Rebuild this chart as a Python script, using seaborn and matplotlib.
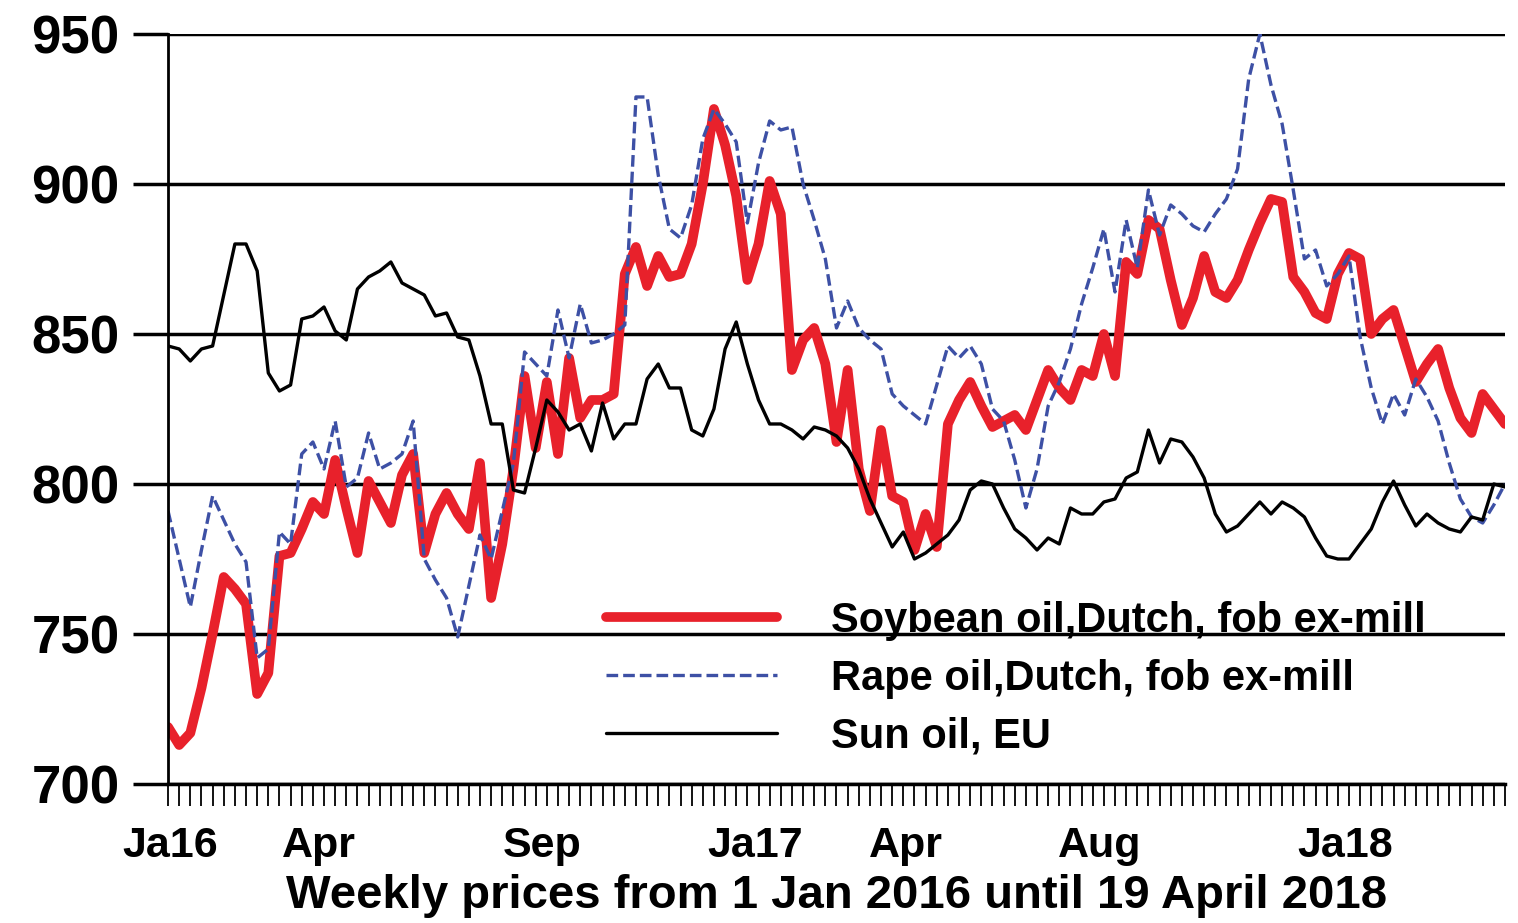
import numpy as np
import pandas as pd
import seaborn as sns
import matplotlib.pyplot as plt

# weekly prices, 1 Jan 2016 .. 19 Apr 2018 (week index 0..120)
weeks = np.arange(121)

soybean = [
    719, 713, 717, 732, 750, 769, 765, 760, 730, 737,
    776, 777, 785, 794, 790, 808, 792, 777, 801, 794,
    787, 803, 810, 777, 790, 797, 790, 785, 807, 762,
    780, 805, 836, 812, 834, 810, 842, 822, 828, 828,
    830, 870, 879, 866, 876, 869, 870, 880, 900, 925,
    913, 896, 868, 880, 901, 890, 838, 848, 852, 840,
    814, 838, 805, 791, 818, 796, 794, 778, 790, 779,
    820, 828, 834, 826, 819, 821, 823, 818, 828, 838,
    832, 828, 838, 836, 850, 836, 874, 870, 888, 885,
    868, 853, 862, 876, 864, 862, 868, 878, 887, 895,
    894, 869, 864, 857, 855, 870, 877, 875, 850, 855,
    858, 846, 834, 840, 845, 832, 822, 817, 830, 825,
    820,
]

rape = [
    791, 775, 759, 778, 796, 788, 780, 774, 742, 745,
    784, 780, 810, 814, 805, 821, 799, 802, 817, 805,
    807, 810, 821, 775, 768, 762, 749, 766, 783, 775,
    791, 807, 844, 840, 836, 858, 842, 860, 847, 848,
    850, 853, 929, 929, 903, 885, 882, 893, 915, 925,
    920, 914, 887, 907, 921, 918, 919, 900, 888, 875,
    852, 861, 852, 848, 845, 830, 826, 823, 820, 833,
    846, 842, 846, 840, 825, 821, 808, 792, 805, 826,
    834, 845, 860, 872, 885, 864, 888, 872, 898, 883,
    893, 890, 886, 884, 890, 895, 905, 935, 950, 933,
    920, 898, 875, 878, 866, 870, 876, 849, 832, 820,
    830, 823, 835, 829, 821, 807, 795, 789, 787, 793,
    800,
]

sun = [
    846, 845, 841, 845, 846, 863, 880, 880, 871, 837,
    831, 833, 855, 856, 859, 851, 848, 865, 869, 871,
    874, 867, 865, 863, 856, 857, 849, 848, 836, 820,
    820, 798, 797, 812, 828, 824, 818, 820, 811, 827,
    815, 820, 820, 835, 840, 832, 832, 818, 816, 825,
    845, 854, 840, 828, 820, 820, 818, 815, 819, 818,
    816, 812, 805, 795, 787, 779, 784, 775, 777, 780,
    783, 788, 798, 801, 800, 792, 785, 782, 778, 782,
    780, 792, 790, 790, 794, 795, 802, 804, 818, 807,
    815, 814, 809, 802, 790, 784, 786, 790, 794, 790,
    794, 792, 789, 782, 776, 775, 775, 780, 785, 794,
    801, 793, 786, 790, 787, 785, 784, 789, 788, 800,
    799,
]

labels = ["Soybean oil,Dutch, fob ex-mill", "Rape oil,Dutch, fob ex-mill", "Sun oil, EU"]
month_labels = ["Ja16", "Apr", "Sep", "Ja17", "Apr", "Aug", "Ja18"]
month_pos = [0.2, 13.5, 33.6, 52.7, 66.2, 83.6, 105.7]

df = pd.DataFrame({"week": weeks, "soy": soybean, "rape": rape, "sun": sun})

sns.set_theme(style="white")
plt.rcParams["font.family"] = ["Liberation Sans", "DejaVu Sans"]
plt.rcParams["font.weight"] = "bold"
plt.rcParams["text.color"] = "black"
plt.rcParams["axes.labelcolor"] = "black"
plt.rcParams["xtick.color"] = "black"
plt.rcParams["ytick.color"] = "black"

fig = plt.figure(figsize=(15.18, 9.23), dpi=100)
ax = fig.add_axes([0.1107, 0.1506, 0.8807, 0.8126])

sns.lineplot(data=df, x="week", y="soy", color="#e8212b", lw=7, label=labels[0], ax=ax,
             solid_joinstyle="round")
sns.lineplot(data=df, x="week", y="rape", color="#3d50a5", lw=2.4, linestyle=(0, (3.5, 1.5)),
             label=labels[1], ax=ax)
sns.lineplot(data=df, x="week", y="sun", color="black", lw=2.4, label=labels[2], ax=ax,
             solid_joinstyle="round")

ax.set_xlim(0, 120)
ax.set_ylim(700, 950)
ax.set_yticks([700, 750, 800, 850, 900, 950])
ax.yaxis.grid(True, color="black", lw=2.5)
ax.set_axisbelow(True)

for s in ["top", "right"]:
    ax.spines[s].set_visible(False)
ax.spines["left"].set_linewidth(2)
ax.spines["left"].set_color("black")
ax.spines["bottom"].set_linewidth(2.5)
ax.spines["bottom"].set_color("black")

ax.tick_params(axis="y", direction="out", length=25, width=2.5, color="black",
               labelsize=38, pad=10, left=True, labelcolor="black")

# one tick per week, month labels in between
ax.set_xticks(weeks)
ax.set_xticklabels([])
ax.set_xticks(month_pos, minor=True)
ax.set_xticklabels(month_labels, minor=True)
ax.tick_params(axis="x", which="major", direction="out", length=16, width=1.3,
               color="black", bottom=True)
ax.tick_params(axis="x", which="minor", length=0, labelsize=31, pad=30, labelcolor="black")

ax.set_xlabel("Weekly prices from 1 Jan 2016 until 19 April 2018", fontsize=34,
              fontweight="bold", labelpad=6, color="black")
ax.set_ylabel("")

leg = ax.legend(loc="upper left", bbox_to_anchor=(0.312, 0.272), frameon=False, borderpad=0,
                handlelength=4.1, handletextpad=1.3, labelspacing=0.43,
                prop={"size": 30, "weight": "bold"})
for t in leg.get_texts():
    t.set_color("black")

fig.savefig("out.png", dpi=100)
